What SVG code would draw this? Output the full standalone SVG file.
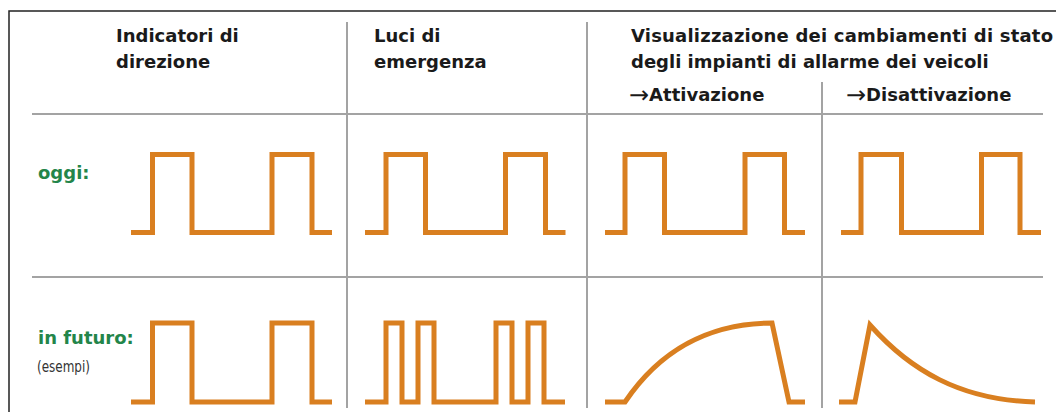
<svg xmlns="http://www.w3.org/2000/svg" width="1056" height="412" viewBox="0 0 1056 412">
<style>
.hd{font-family:"DejaVu Sans","Liberation Sans",sans-serif;font-weight:bold;font-size:18px;fill:#1a1a1a}
.ar{font-family:"DejaVu Sans",sans-serif;font-weight:normal;font-size:24px}
.lb{font-family:"DejaVu Sans","Liberation Sans",sans-serif;font-weight:bold;font-size:18px;fill:#23854a}
.sm{font-family:"DejaVu Sans Condensed","DejaVu Sans",sans-serif;font-stretch:condensed;font-size:16px;fill:#333}
.grid{stroke:#a3a3a3;stroke-width:2;fill:none}
.frame{stroke:#222;stroke-width:1.5;fill:none}
.wave{stroke:#d97f20;stroke-width:5;fill:none;stroke-linejoin:miter;stroke-miterlimit:10;stroke-linecap:butt}
</style>
<rect width="1056" height="412" fill="#fff"/>
<g id="frame">
<path class="frame" d="M9 412 V11 H1056"/>
</g>
<g id="grid">
<line class="grid" x1="32" y1="114" x2="1043" y2="114"/>
<line class="grid" x1="32" y1="277" x2="1043" y2="277"/>
<line class="grid" x1="347" y1="22" x2="347" y2="408"/>
<line class="grid" x1="587" y1="22" x2="587" y2="408"/>
<line class="grid" x1="822" y1="82" x2="822" y2="408"/>
</g>
<g id="header-indicatori">
<text class="hd" x="116" y="42">Indicatori di</text>
<text class="hd" x="116" y="68">direzione</text>
</g>
<g id="header-luci">
<text class="hd" x="374" y="42">Luci di</text>
<text class="hd" x="374" y="68">emergenza</text>
</g>
<g id="header-allarme">
<text class="hd" x="631" y="42" textLength="422" lengthAdjust="spacing">Visualizzazione dei cambiamenti di stato</text>
<text class="hd" x="631" y="68">degli impianti di allarme dei veicoli</text>
<text class="hd" x="629" y="101"><tspan class="ar" dy="1.5">→</tspan><tspan dy="-1.5">Attivazione</tspan></text>
<text class="hd" x="846" y="101"><tspan class="ar" dy="1.5">→</tspan><tspan dy="-1.5">Disattivazione</tspan></text>
</g>
<g id="row-labels">
<text class="lb" x="38" y="179">oggi:</text>
<text class="lb" x="38" y="344">in futuro:</text>
<text class="sm" x="37" y="372" textLength="53" lengthAdjust="spacingAndGlyphs">(esempi)</text>
</g>
<g id="waves-oggi">
<path class="wave" d="M131 232.5 H152.5 V154.5 H192 V232.5 H272 V154.5 H312 V232.5 H332"/>
<path class="wave" d="M365 232.5 H386 V154.5 H425.5 V232.5 H505.5 V154.5 H545.5 V232.5 H565.5"/>
<path class="wave" d="M605 232.5 H625 V154.5 H664.5 V232.5 H745 V154.5 H784.5 V232.5 H805"/>
<path class="wave" d="M841 232.5 H861 V154.5 H901.5 V232.5 H981.5 V154.5 H1020 V232.5 H1041"/>
</g>
<g id="waves-futuro">
<path class="wave" d="M131 402 H152.5 V323 H192 V402 H272 V323 H312 V402 H332"/>
<path class="wave" d="M365 402 H386 V323 H402 V402 H418 V323 H434 V402 H496 V323 H512 V402 H528 V323 H544 V402 H565"/>
<path class="wave" d="M605 402 H625 C660 350 710 323 772 323 L789 402 H805"/>
<path class="wave" d="M839 402 H855 L870 325 C910 370 960 400 1035 402"/>
</g>
</svg>
